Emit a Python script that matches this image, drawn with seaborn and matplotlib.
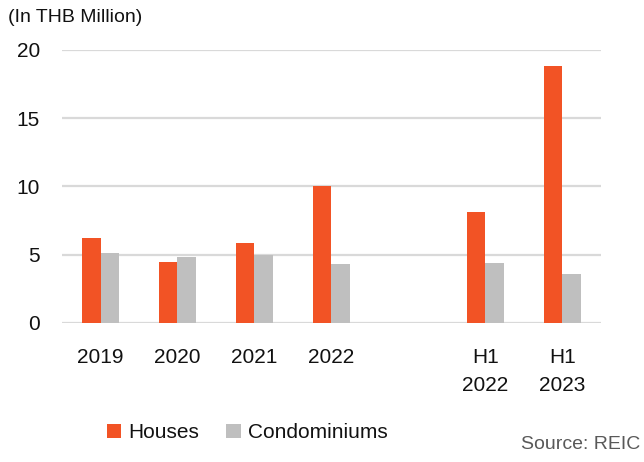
import numpy as np
import pandas as pd
import matplotlib.pyplot as plt
import seaborn as sns
from matplotlib.font_manager import fontManager

# data
periods = ['2019', '2020', '2021', '2022', 'H1\n2022', 'H1\n2023']
houses = [6.2, 4.45, 5.85, 10.0, 8.15, 18.8]
condos = [5.15, 4.8, 4.95, 4.3, 4.4, 3.6]
# blank slot between the full years and the half years
order = ['2019', '2020', '2021', '2022', ' ', 'H1\n2022', 'H1\n2023']

names = {f.name for f in fontManager.ttflist}
fam = 'Liberation Sans Narrow' if 'Liberation Sans Narrow' in names else 'Liberation Sans'

sns.set_style('white')
plt.rcParams['font.family'] = [fam, 'DejaVu Sans']

df = pd.DataFrame({
    'period': periods * 2,
    'value': houses + condos,
    'type': ['Houses'] * len(periods) + ['Condominiums'] * len(periods),
})

fig = plt.figure(figsize=(6.44, 4.62), dpi=100)
ax = fig.add_axes([0.0963, 0.301, 0.8367, 0.591])

sns.barplot(data=df, x='period', y='value', hue='type', order=order,
            hue_order=['Houses', 'Condominiums'],
            palette={'Houses': '#F25325', 'Condominiums': '#BFBFBF'},
            saturation=1, linewidth=0, width=0.48, gap=0,
            errorbar=None, ax=ax, zorder=3)

ax.set_ylim(0, 20)
ax.set_xlim(-0.5, len(order) - 0.5)
ax.set_yticks([0, 5, 10, 15, 20])
ax.yaxis.grid(True, color='#D9D9D9', linewidth=1.6, zorder=0)
ax.set_axisbelow(True)
for s in ax.spines.values():
    s.set_visible(False)
ax.set_xlabel('')
ax.set_ylabel('')
ax.tick_params(axis='x', length=0, pad=18, labelsize=15, labelcolor='#111111')
ax.tick_params(axis='y', length=0, pad=16, labelsize=15, labelcolor='#111111')
for lab in ax.get_xticklabels():
    lab.set_linespacing(1.6)

fig.text(0.012, 0.963, '(In THB Million)', fontsize=14, ha='left', va='center',
         color='#111111')

ax.legend_.remove()
h, l = ax.get_legend_handles_labels()
fig.legend(h, l, loc='center', bbox_to_anchor=(0.384, 0.063), ncol=2,
           frameon=False, fontsize=15, handlelength=0.7, handleheight=0.7,
           handletextpad=0.35, columnspacing=1.3, labelcolor='#111111')

fig.text(0.994, 0.02, 'Source: REIC', fontsize=14, color='#595959',
         ha='right', va='bottom')

plt.savefig('out.png', dpi=100)
